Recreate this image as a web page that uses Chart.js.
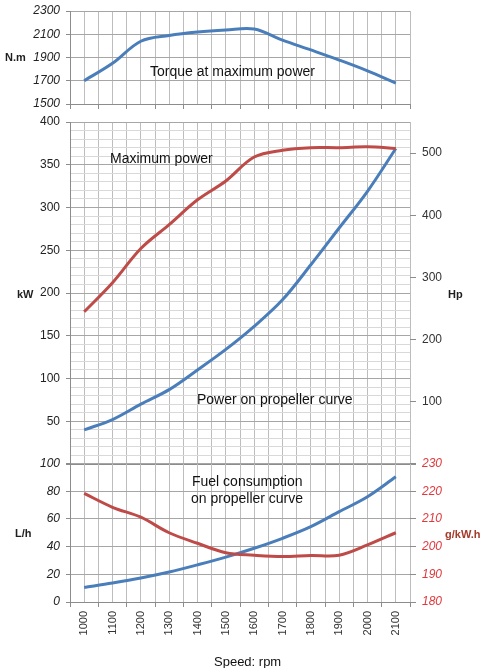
<!DOCTYPE html>
<html>
<head>
<meta charset="utf-8">
<script src="https://cdn.jsdelivr.net/npm/chart.js@4/dist/chart.umd.min.js"></script>
<style>
    body { margin: 0; background: #fff; }
    #page { position: relative; width: 486px; height: 668px; font-family: "Liberation Sans", Arial, sans-serif; }
    .box { position: absolute; left: 0; width: 486px; }
    .lbl { position: absolute; white-space: nowrap; color: #000; line-height: 1; }
    .ax { font-weight: bold; font-size: 11px; color: #1f1f1f; }
    .note { font-size: 14px; color: #111; }
</style>
</head>
<body>
<div id="page">
    <div class="box" style="top:0;height:112px"><canvas id="torqueChart"></canvas></div>
    <div class="box" style="top:112px;height:353px"><canvas id="powerChart"></canvas></div>
    <div class="box" style="top:452px;height:216px"><canvas id="fuelChart"></canvas></div>

    <div class="lbl ax" style="left:5px;top:52px">N.m</div>
    <div class="lbl ax" style="left:17px;top:289px">kW</div>
    <div class="lbl ax" style="left:448px;top:289px">Hp</div>
    <div class="lbl ax" style="left:15px;top:528px">L/h</div>
    <div class="lbl ax" style="left:445px;top:529px;color:#a33b2b">g/kW.h</div>

    <div class="lbl note" style="left:150px;top:64px">Torque at maximum power</div>
    <div class="lbl note" style="left:110px;top:151px">Maximum power</div>
    <div class="lbl note" style="left:197px;top:392px">Power on propeller curve</div>
    <div class="lbl note" style="left:192px;top:474px">Fuel consumption</div>
    <div class="lbl note" style="left:191px;top:491px">on propeller curve</div>
    <div class="lbl" style="left:214px;top:655px;font-size:13px;color:#111">Speed: rpm</div>
</div>

<script>
// Speed points (rpm)
const rpm = [1000, 1100, 1200, 1300, 1400, 1500, 1600, 1700, 1800, 1900, 2000, 2100];

// Torque at maximum power (N.m)
const torque = [1700, 1850, 2040, 2090, 2120, 2137, 2145, 2050, 1965, 1878, 1785, 1680];

// Maximum power and power on propeller curve (kW)
const maxPower = [178, 212, 252, 280, 309, 331, 359, 367, 370, 370, 371, 369];
const propPower = [40, 52, 70, 87, 110, 134, 161, 192, 233, 276, 319, 369];

// Fuel consumption on propeller curve
const fuelRate = [10.5, 13.7, 17.3, 21.6, 26.8, 32.4, 38.8, 46, 54.4, 65.2, 76, 90.4];        // L/h
const specFuel = [219.2, 214.2, 210.6, 205, 201.2, 197.8, 196.9, 196.4, 196.8, 196.9, 200.6, 205]; // g/kW.h

// secondary power axis range (Hp) as drawn in the original
const HP_MAX = 550;

const BLUE = '#4a7ebb';
const RED = '#be4b48';
const FONT = "'Liberation Sans', Arial, sans-serif";

function points(values) {
    return rpm.map((r, i) => ({ x: r, y: values[i] }));
}

function lineSet(values, color, axis) {
    return {
        data: points(values),
        borderColor: color,
        borderWidth: 3,
        pointRadius: 0,
        tension: 0.35,
        yAxisID: axis || 'y'
    };
}

// keep the plot areas of the three charts exactly aligned
function noPadding(scale) {
    scale.paddingTop = 0;
    scale.paddingBottom = 0;
    scale.paddingLeft = 0;
    scale.paddingRight = 0;
}

// shared speed axis: grid every 50 rpm, tick marks between categories
function speedAxis(showLabels, height) {
    return {
        type: 'linear',
        min: 950,
        max: 2150,
        afterBuildTicks: function(scale) {
            const t = [];
            for (let v = 950; v <= 2150; v += 50) t.push({ value: v });
            scale.ticks = t;
        },
        afterFit: function(scale) {
            scale.height = height;
            noPadding(scale);
        },
        grid: {
            color: '#bdbdbd',
            tickColor: ctx => (ctx.tick && ctx.tick.value % 100 === 50) ? '#8c8c8c' : 'rgba(0,0,0,0)',
            tickLength: 5,
            drawTicks: true
        },
        border: { color: '#8c8c8c' },
        ticks: {
            display: showLabels,
            autoSkip: false,
            minRotation: 90,
            maxRotation: 90,
            padding: 4,
            color: '#333',
            font: { family: FONT, size: 11 },
            callback: v => (v % 100 === 0 ? String(v) : '')
        }
    };
}

function leftAxis(min, max, step, opts) {
    return {
        position: 'left',
        min: min,
        max: max,
        afterFit: function(scale) {
            scale.width = 70;
            noPadding(scale);
        },
        afterBuildTicks: function(scale) {
            const t = [];
            for (let v = min; v <= max + 1e-9; v += step) t.push({ value: v });
            scale.ticks = t;
        },
        grid: {
            color: opts.gridColor,
            tickColor: opts.tickColor,
            tickLength: 4
        },
        border: { color: '#8c8c8c' },
        ticks: {
            autoSkip: false,
            padding: 6,
            color: '#222',
            font: { family: FONT, size: 12, style: opts.italic ? 'italic' : 'normal' },
            callback: opts.label
        }
    };
}

function rightAxis(min, max, step, color, italic, hideZero) {
    return {
        position: 'right',
        min: min,
        max: max,
        afterFit: function(scale) {
            scale.width = 76;
            noPadding(scale);
        },
        afterBuildTicks: function(scale) {
            const t = [];
            for (let v = Math.ceil(min / step) * step; v <= max + 1e-9; v += step) t.push({ value: v });
            scale.ticks = t;
        },
        grid: {
            drawOnChartArea: false,
            tickColor: '#8c8c8c',
            tickLength: 6
        },
        border: { display: false },
        ticks: {
            autoSkip: false,
            padding: 6,
            color: color,
            font: { family: FONT, size: 12, style: italic ? 'italic' : 'normal' },
            callback: v => (hideZero && v === 0 ? '' : String(v))
        }
    };
}

const baseOptions = {
    responsive: true,
    maintainAspectRatio: false,
    animation: false,
    plugins: { legend: { display: false }, tooltip: { enabled: false } }
};

// Top: torque
new Chart(document.getElementById('torqueChart'), {
    type: 'line',
    data: { datasets: [lineSet(torque, BLUE)] },
    options: Object.assign({}, baseOptions, {
        layout: { padding: { top: 11, right: 76, bottom: 0, left: 0 } },
        scales: {
            x: speedAxis(false, 8),
            y: leftAxis(1500, 2300, 200, {
                italic: true,
                gridColor: '#a6a6a6',
                tickColor: '#8c8c8c',
                label: v => String(v)
            })
        }
    })
});

// Middle: power
new Chart(document.getElementById('powerChart'), {
    type: 'line',
    data: { datasets: [lineSet(maxPower, RED), lineSet(propPower, BLUE)] },
    options: Object.assign({}, baseOptions, {
        layout: { padding: { top: 10, right: 0, bottom: 0, left: 0 } },
        scales: {
            x: speedAxis(false, 1),
            y: leftAxis(0, 400, 10, {
                italic: false,
                gridColor: ctx => (ctx.tick && ctx.tick.value % 50 === 0) ? '#a6a6a6' : '#d9d9d9',
                tickColor: ctx => (ctx.tick && ctx.tick.value % 50 === 0) ? '#8c8c8c' : 'rgba(0,0,0,0)',
                label: v => (v % 50 === 0 && v !== 0 ? String(v) : '')
            }),
            hp: rightAxis(0, HP_MAX, 100, '#333', false, true)
        }
    })
});

// Bottom: fuel consumption
new Chart(document.getElementById('fuelChart'), {
    type: 'line',
    data: { datasets: [lineSet(specFuel, RED, 'spec'), lineSet(fuelRate, BLUE)] },
    options: Object.assign({}, baseOptions, {
        layout: { padding: { top: 11.5, right: 0, bottom: 26, left: 0 } },
        scales: {
            x: speedAxis(true, 40),
            y: leftAxis(0, 100, 20, {
                italic: true,
                gridColor: '#a6a6a6',
                tickColor: '#8c8c8c',
                label: v => String(v)
            }),
            spec: rightAxis(180, 230, 10, '#e0383c', true, false)
        }
    })
});
</script>
</body>
</html>
